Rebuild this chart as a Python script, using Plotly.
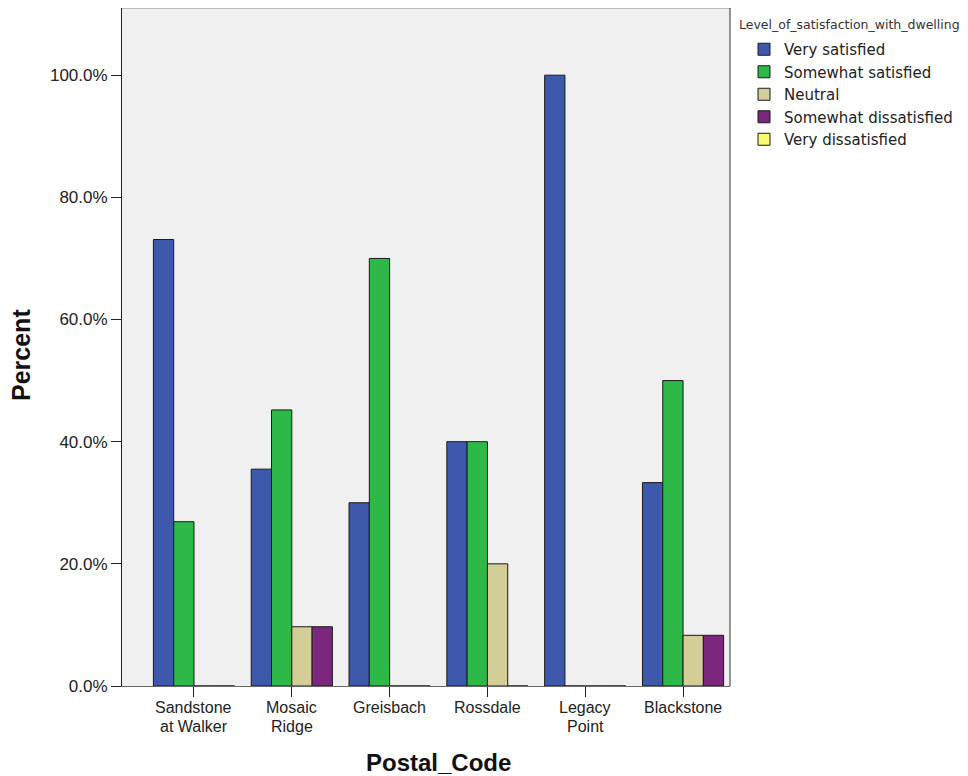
import plotly.graph_objects as go

categories = ["Sandstone<br>at Walker", "Mosaic<br>Ridge", "Greisbach", "Rossdale", "Legacy<br>Point", "Blackstone"]
series_names = ["Very satisfied", "Somewhat satisfied", "Neutral", "Somewhat dissatisfied", "Very dissatisfied"]
very_satisfied = [73.1, 35.5, 30.0, 40.0, 100.0, 33.3]
somewhat_satisfied = [26.9, 45.2, 70.0, 40.0, 0.0, 50.0]
neutral = [0.0, 9.7, 0.0, 20.0, 0.0, 8.3]
somewhat_dissatisfied = [0.0, 9.7, 0.0, 0.0, 0.0, 8.3]
very_dissatisfied = [None, None, None, None, None, None]
y_ticks = [0, 20, 40, 60, 80, 100]
legend_title = "Level_of_satisfaction_with_dwelling"
x_title = "Postal_Code"
y_title = "Percent"

colors = ["#3E58AC", "#2EB848", "#D3CE97", "#7B277D", "#FBF873"]
values = [very_satisfied, somewhat_satisfied, neutral, somewhat_dissatisfied, very_dissatisfied]

# page-pixel helpers (page has 8px body margin)
L, R, T, B = 122, 730, 8, 686
def px(X):
    return (X - L) / (R - L)
def py(Y):
    return (B - Y) / (B - T)

w = 0.2075
fig = go.Figure()
for i, (name, vals, col) in enumerate(zip(series_names, values, colors)):
    fig.add_trace(go.Bar(
        x=categories, y=vals, name=name,
        marker=dict(color=col, line=dict(color="#1a1a1a", width=1)),
        width=w, offset=-2 * w + min(i, 3) * w,
        hoverinfo="skip",
    ))

annotations = [
    dict(text="<b>" + y_title + "</b>", xref="paper", yref="paper", x=px(21), y=py(355),
         showarrow=False, textangle=-90, xanchor="center", yanchor="middle",
         font=dict(size=25, color="#111", family="Liberation Sans, Arial, sans-serif")),
    dict(text="<b>" + x_title + "</b>", xref="paper", yref="paper", x=px(438), y=py(762),
         showarrow=False, xanchor="center", yanchor="middle",
         font=dict(size=24, color="#111", family="Liberation Sans, Arial, sans-serif")),
    dict(text=legend_title, xref="paper", yref="paper", x=px(737), y=py(24),
         showarrow=False, xanchor="left", yanchor="middle",
         font=dict(size=12.5, color="#333", family="DejaVu Sans, sans-serif")),
]
# category labels, tightly spaced lines like the reference
for cat in categories:
    for j, line in enumerate(cat.split("<br>")):
        annotations.append(dict(
            text=line, xref="x", yref="paper", x=cat, y=py(708 + 18.5 * j),
            showarrow=False, xanchor="center", yanchor="middle",
            font=dict(size=16, color="#222", family="Liberation Sans, Arial, sans-serif"),
        ))

fig.update_layout(
    width=960, height=768,
    margin=dict(l=114, r=238, t=0, b=90),
    paper_bgcolor="white",
    plot_bgcolor="#F0F0F0",
    barmode="overlay",
    font=dict(family="Liberation Sans, Arial, sans-serif", size=17, color="#222"),
    showlegend=True,
    legend=dict(
        x=px(744), xanchor="left", y=py(33), yanchor="top",
        font=dict(size=15, color="#222", family="DejaVu Sans, sans-serif"),
        tracegroupgap=0,
        bgcolor="rgba(0,0,0,0)",
    ),
    xaxis=dict(
        type="category", range=[-0.736, 5.48],
        showline=True, linecolor="#666", linewidth=1, mirror=False,
        ticks="outside", ticklen=10, tickcolor="#222",
        showgrid=False, showticklabels=False,
    ),
    yaxis=dict(
        range=[0, 111.0], tickvals=y_ticks,
        ticktext=[f"{v:.1f}%" for v in y_ticks],
        showline=True, linecolor="#222", linewidth=1,
        ticks="outside", ticklen=10, tickcolor="#222",
        showgrid=False, zeroline=False, tickfont=dict(size=17, color="#222"),
    ),
    annotations=annotations,
)
# top and right frame
fig.add_shape(type="line", xref="paper", yref="paper", x0=0, x1=1, y0=1, y1=1, line=dict(color="#888", width=1))
fig.add_shape(type="line", xref="paper", yref="paper", x0=1, x1=1, y0=0, y1=1, line=dict(color="#333", width=1))

fig.write_html("out.html")
